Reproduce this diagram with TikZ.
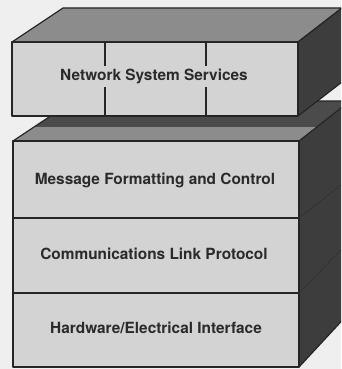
\documentclass[tikz,border=0pt]{standalone}
\usepackage{fontspec}
\setmainfont{TeX Gyre Heros}
\definecolor{bg}{HTML}{EFEFEF}
\definecolor{frontc}{HTML}{D3D3D3}
\definecolor{topc}{HTML}{8C8C8C}
\definecolor{sidec}{HTML}{3D3D3D}
\definecolor{shadowc}{HTML}{4B4B4B}
\definecolor{edgec}{HTML}{252525}
\definecolor{textc}{HTML}{2A2A2A}
\begin{document}
\begin{tikzpicture}[x=1pt,y=-1pt,
  face/.style={draw=edgec,line width=1.2pt,line join=round},
  lbl/.style={anchor=base,text=textc,font=\fontsize{15.4}{18}\selectfont\bfseries},
  lblbox/.style={lbl,fill=frontc,inner xsep=2pt,inner ysep=3.5pt}]
\useasboundingbox (0,0) rectangle (341,369);
\fill[bg] (0,0) rectangle (341,369);
\clip (0,0) rectangle (341,369);
% ---- lower stack ----
\fill[shadowc] (34,127) -- (317,127) -- (350,101) -- (73,101) -- cycle;
\fill[topc] (13,141) -- (299,141) -- (317,127) -- (34,127) -- cycle;
\draw[face,fill=sidec] (299,141) -- (350,101) -- (350,312) -- (299,367) -- cycle;
\draw[edgec,line width=1.2pt] (13,141) -- (73,101) -- (350,101);
\draw[face,fill=frontc] (13,141) rectangle (299,367);
\draw[face] (13,218) -- (299,218);
\draw[face] (13,293) -- (299,293);
\draw[black!80,line width=0.8pt] (299,218) -- (341,185);
\draw[black!80,line width=0.8pt] (299,293) -- (341,250);
% ---- top box ----
\draw[face,fill=topc] (12,42) -- (63,8) -- (342,8) -- (298,42) -- cycle;
\draw[face,fill=sidec] (298,42) -- (342,8) -- (342,82) -- (298,116) -- cycle;
\draw[face,fill=frontc] (12,42) rectangle (298,116);
\draw[face] (105,42) -- (105,116);
\draw[face] (206,42) -- (206,116);
% ---- labels ----
\node[lblbox] (nss) at (154,80.5) {Network System Services};
\node[lbl] (mfc) at (155,184.5) {Message Formatting and Control};
\node[lbl] (clp) at (154,259.5) {Communications Link Protocol};
\node[lbl] (hei) at (156,333) {Hardware/Electrical Interface};
\end{tikzpicture}
\end{document}
